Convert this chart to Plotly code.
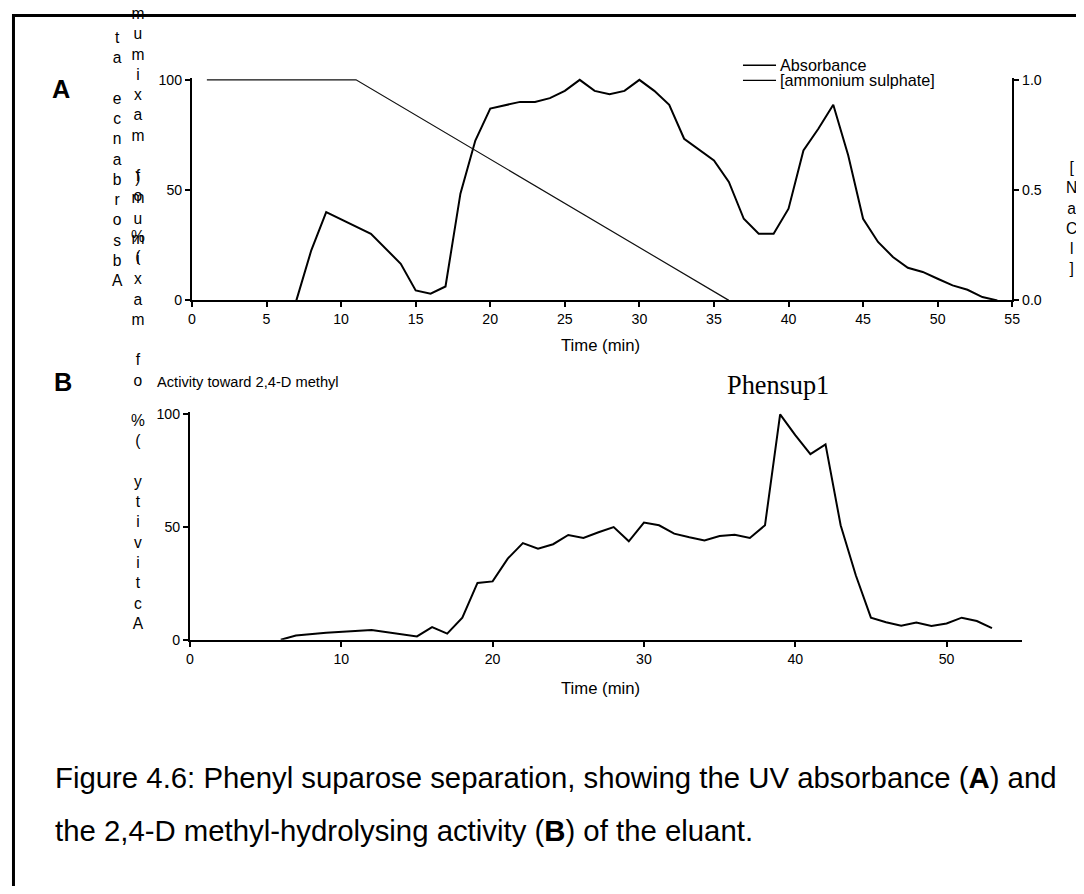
import plotly.graph_objects as go

# ---------------- data ----------------
abs_time = [7, 8, 9, 12, 14, 15, 16, 17, 18, 19, 20, 21, 22, 23, 24, 25, 26, 27, 28, 29,
            30, 31, 32, 33, 34, 35, 36, 37, 38, 39, 40, 41, 42, 43, 44, 45, 46, 47, 48,
            49, 50, 51, 52, 53, 54]
abs_vals = [0, 22.7, 40, 30.2, 16.6, 4.5, 3, 6.3, 48.4, 72.5, 87, 88.5, 90, 90, 91.7, 95,
            100, 95, 93.5, 95, 100, 95, 88.7, 73.3, 68.3, 63.5, 53.7, 37, 30.2, 30.2, 41.6,
            68, 77.8, 88.7, 65.8, 37, 26.5, 19.7, 14.8, 12.9, 9.8, 6.8, 4.8, 1.5, 0]

salt_time = [1, 11, 36]
salt_conc = [1.0, 1.0, 0.0]

act_time = [6, 7, 9, 12, 15, 16, 17, 18, 19, 20, 21, 22, 23, 24, 25, 26, 27, 28, 29, 30,
            31, 32, 33, 34, 35, 36, 37, 38, 39, 40, 41, 42, 43, 44, 45, 46, 47, 48, 49,
            50, 51, 52, 53]
act_vals = [0, 1.9, 3.1, 4.3, 1.5, 5.6, 2.7, 9.8, 25.2, 25.9, 36, 42.9, 40.4, 42.4, 46.5,
            45.2, 47.7, 50, 43.7, 52, 50.8, 47.1, 45.5, 44.1, 46, 46.6, 45.2, 50.8, 100,
            90.8, 82.4, 86.7, 50.8, 28.6, 9.8, 7.8, 6.2, 7.6, 6.1, 7.2, 9.8, 8.3, 5.2]

a_xticks = [0, 5, 10, 15, 20, 25, 30, 35, 40, 45, 50, 55]
b_xticks = [0, 10, 20, 30, 40, 50]
pct_ticks = [0, 50, 100]
nacl_ticks = [0.0, 0.5, 1.0]
nacl_ticktext = ["0.0", "0.5", "1.0"]

legend_names = ["Absorbance", "[ammonium sulphate]"]

# ---------------- geometry helpers ----------------
# Target positions are given in picture pixels; they are mapped to figure
# pixels (body margin of 8px plus the slight scale seen in the output).
OFF = 8
KX, CX = 0.988, 3.8
KY, CY = 0.984, 5.8
W, H = 1084, 886
FONT = "Arial, 'Liberation Sans', sans-serif"


def px(s):
    return ((s - CX) / KX - OFF) / W


def py(s):
    return 1 - ((s - CY) / KY - OFF) / H


def fs(size):
    return size / KX


# ---------------- figure ----------------
fig = go.Figure()

fig.add_trace(go.Scatter(x=abs_time, y=abs_vals, mode="lines", name=legend_names[0],
                         line=dict(color="black", width=2), xaxis="x", yaxis="y",
                         showlegend=False))
fig.add_trace(go.Scatter(x=salt_time, y=salt_conc, mode="lines", name=legend_names[1],
                         line=dict(color="#111111", width=1.2), xaxis="x", yaxis="y2",
                         showlegend=False))
fig.add_trace(go.Scatter(x=act_time, y=act_vals, mode="lines", name="Activity",
                         line=dict(color="black", width=2), xaxis="x2", yaxis="y3",
                         showlegend=False))

axis_common = dict(showgrid=False, zeroline=False, showline=True, linecolor="black",
                   linewidth=2, ticks="outside", ticklen=5, tickwidth=1.5,
                   tickcolor="black", tickfont=dict(family=FONT, size=fs(14), color="black"))

# panel A geometry (picture pixels)
a_x0, a_x1 = 191.5, 1011
a_y0, a_y100 = 300, 79.5
a_unit = (a_y0 - a_y100) / 100
# panel B geometry
b_x0, b_x1 = 189.5, 1021
b_y0, b_y100 = 639.3, 414
b_unit = (b_y0 - b_y100) / 100

fig.update_layout(
    width=W, height=H, autosize=False,
    margin=dict(l=0, r=0, t=0, b=0),
    paper_bgcolor="white", plot_bgcolor="white",
    font=dict(family=FONT, color="black"),
    showlegend=False,
    xaxis=dict(domain=[px(a_x0), px(a_x1)], range=[0, 55], tickvals=a_xticks,
               anchor="y", **axis_common),
    yaxis=dict(domain=[py(a_y0), py(a_y100 - a_unit)], range=[0, 101], tickvals=pct_ticks,
               anchor="x", **axis_common),
    yaxis2=dict(overlaying="y", side="right", range=[0, 1.01], tickvals=nacl_ticks,
                ticktext=nacl_ticktext, anchor="x", **axis_common),
    xaxis2=dict(domain=[px(b_x0), px(b_x1)], range=[0, 55], tickvals=b_xticks,
                anchor="y3", **axis_common),
    yaxis3=dict(domain=[py(b_y0), py(b_y100 - b_unit)], range=[0, 101], tickvals=pct_ticks,
                anchor="x2", **axis_common),
)


def stack(s):
    # vertical stacked characters, top to bottom
    return "<br>".join(ch if ch != " " else "\u00a0" for ch in s)


annots = [
    dict(text="<b>A</b>", x=px(61), y=py(89), size=25, family=FONT, xa="center"),
    dict(text="<b>B</b>", x=px(63), y=py(382), size=25, family=FONT, xa="center"),
    dict(text=stack("ta ecnabrosbA"), x=px(117), y=py(158.5), size=15.4, family=FONT, xa="center"),
    dict(text=stack("mumixam fo %("), x=px(138), y=py(135), size=15.4, family=FONT, xa="center"),
    dict(text=stack(")mumixam fo %( ytivitcA"), x=px(138), y=py(400.5), size=15.4, family=FONT, xa="center"),
    dict(text=stack("[NaCl]"), x=px(1070), y=py(217.5), size=15.4, family=FONT, xa="center"),
    dict(text="Activity toward 2,4-D methyl", x=px(155), y=py(382), size=14.5, family=FONT, xa="left"),
    dict(text="Phensup1", x=px(777), y=py(385), size=26,
         family="'Times New Roman', 'Liberation Serif', serif", xa="center"),
    dict(text="Time (min)", x=px(600), y=py(345), size=16.5, family=FONT, xa="center"),
    dict(text="Time (min)", x=px(600), y=py(688), size=16.5, family=FONT, xa="center"),
    dict(text="Figure 4.6: Phenyl suparose separation, showing the UV absorbance (<b>A</b>) and",
         x=px(53), y=py(777), size=29, family=FONT, xa="left"),
    dict(text="the 2,4-D methyl-hydrolysing activity (<b>B</b>) of the eluant.",
         x=px(53), y=py(830), size=29, family=FONT, xa="left"),
    dict(text=legend_names[0], x=px(777), y=py(65), size=16, family=FONT, xa="left"),
    dict(text=legend_names[1], x=px(777), y=py(80), size=16, family=FONT, xa="left"),
]
for a in annots:
    fig.add_annotation(text=a["text"], x=a["x"], y=a["y"], xref="paper", yref="paper",
                       xanchor=a["xa"], yanchor="middle", showarrow=False,
                       font=dict(family=a["family"], size=fs(a["size"]), color="black"))

# legend sample lines
for ly, lw in [(65, 1.5), (80, 1.2)]:
    fig.add_shape(type="line", xref="paper", yref="paper", x0=px(742), x1=px(775),
                  y0=py(ly), y1=py(ly), line=dict(color="black", width=lw))

# page border (top and left), kept inside the figure area
fig.add_shape(type="line", xref="paper", yref="paper", x0=0, x1=px(1080),
              y0=1 - 1.5 / H, y1=1 - 1.5 / H, line=dict(color="black", width=3))
fig.add_shape(type="line", xref="paper", yref="paper", x0=1.5 / W, x1=1.5 / W,
              y0=1, y1=0, line=dict(color="black", width=3))

fig.write_html("out.html")
